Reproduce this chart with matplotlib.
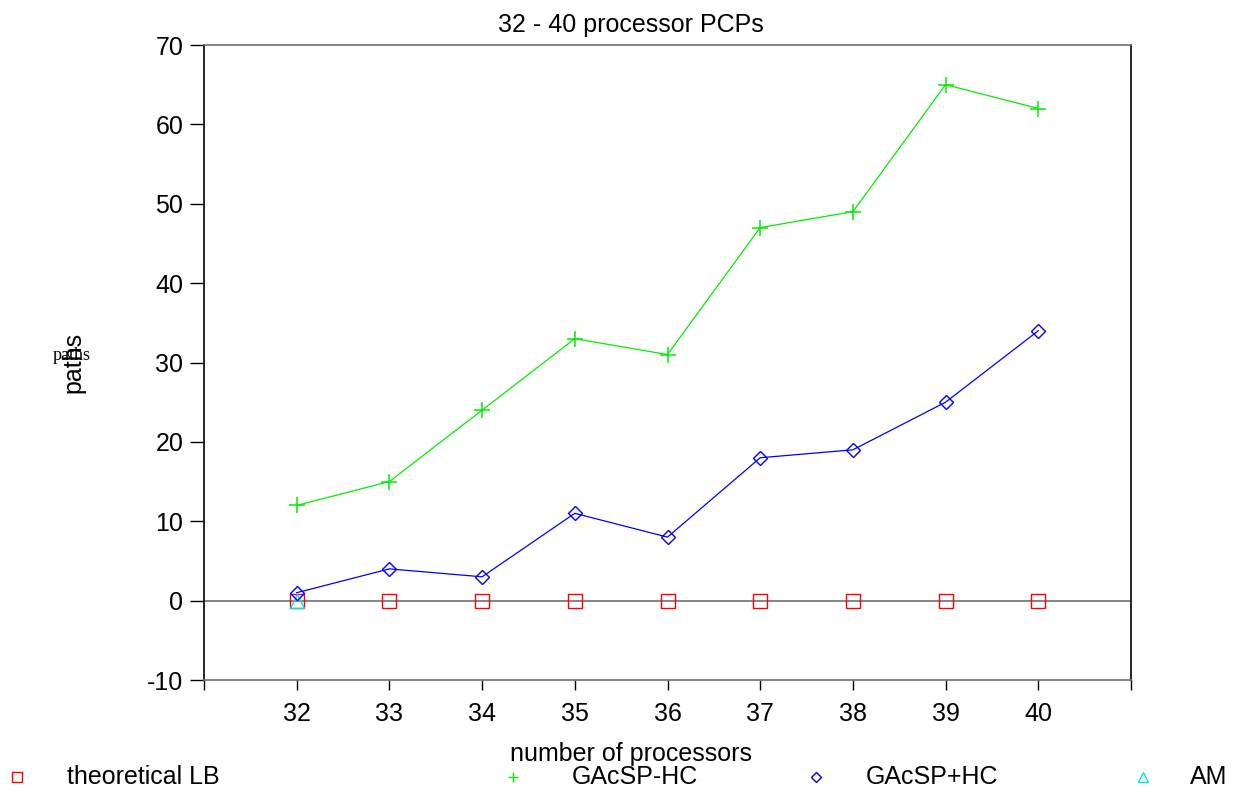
import matplotlib
matplotlib.use("Agg")
import matplotlib.pyplot as plt

plt.rcParams['font.family'] = ['Liberation Sans', 'DejaVu Sans']
plt.rcParams['axes.unicode_minus'] = False

# data
procs = [32, 33, 34, 35, 36, 37, 38, 39, 40]
theoretical_lb = [0, 0, 0, 0, 0, 0, 0, 0, 0]
gacsp_minus_hc = [12, 15, 24, 33, 31, 47, 49, 65, 62]
gacsp_plus_hc = [1, 4, 3, 11, 8, 18, 19, 25, 34]
am_procs = [32]
am_vals = [0]

fig = plt.figure(figsize=(12.36, 7.88), dpi=100)
ax = fig.add_axes([204/1236, 1-680/788, (1131-204)/1236, (680-45)/788])

ax.axhline(0, color='#707070', lw=1.2, zorder=1)

ax.plot(procs, gacsp_minus_hc, color='#00ee00', lw=0.9, marker='+', ms=11, mew=1.1, zorder=3)
ax.plot(procs, gacsp_plus_hc, color='#0000ff', lw=0.9, marker='D', ms=7, mfc='none', mew=1, zorder=3)
ax.plot(procs, theoretical_lb, ls='none', color='#ff0000', marker='s', ms=9.5, mfc='none', mew=1, zorder=2)
ax.plot(am_procs, am_vals, ls='none', color='#00e5e5', marker='^', ms=9.5, mfc='none', mew=1, zorder=2)

ax.set_xlim(31, 41)
ax.set_ylim(-10, 70)
ax.set_xticks(range(31, 42))
ax.set_xticklabels([''] + [str(p) for p in procs] + [''])
ax.set_yticks(range(-10, 71, 10))

for s in ['left', 'right']:
    ax.spines[s].set_color('black')
    ax.spines[s].set_linewidth(1.2)
for s in ['top', 'bottom']:
    ax.spines[s].set_color('#707070')
    ax.spines[s].set_linewidth(1.2)

ax.tick_params(axis='y', direction='out', length=10, width=1, labelsize=18, pad=5)
ax.tick_params(axis='x', direction='out', length=7.5, width=1, labelsize=18, pad=8)

fig.text(631/1236, 1-25/788, '32 - 40 processor PCPs', ha='center', va='center', fontsize=18)
fig.text(631/1236, 1-754/788, 'number of processors', ha='center', va='center', fontsize=18)
fig.text(73/1236, 1-362/788, 'paths', ha='center', va='center', fontsize=18, rotation=90)
fig.text(72/1236, 1-355/788, 'paths', ha='center', va='center', fontsize=13, family='Liberation Serif')

# legend row along the bottom
legend_items = [
    ('s', '#ff0000', 'theoretical LB', 17, 67),
    ('+', '#00ee00', 'GAcSP-HC', 513, 572),
    ('D', '#0000ff', 'GAcSP+HC', 816, 866),
    ('^', '#00e5e5', 'AM', 1143, 1190),
]
for m, c, label, mx, tx in legend_items:
    size = 7.5 if m != 'D' else 5.5
    fig.lines.append(plt.Line2D([mx/1236], [1-777/788], transform=fig.transFigure,
                                marker=m, color=c, ms=size, mfc='none', mew=1, ls='none'))
    fig.text(tx/1236, 1-777/788, label, ha='left', va='center', fontsize=18)

fig.savefig('out.png', dpi=100)
